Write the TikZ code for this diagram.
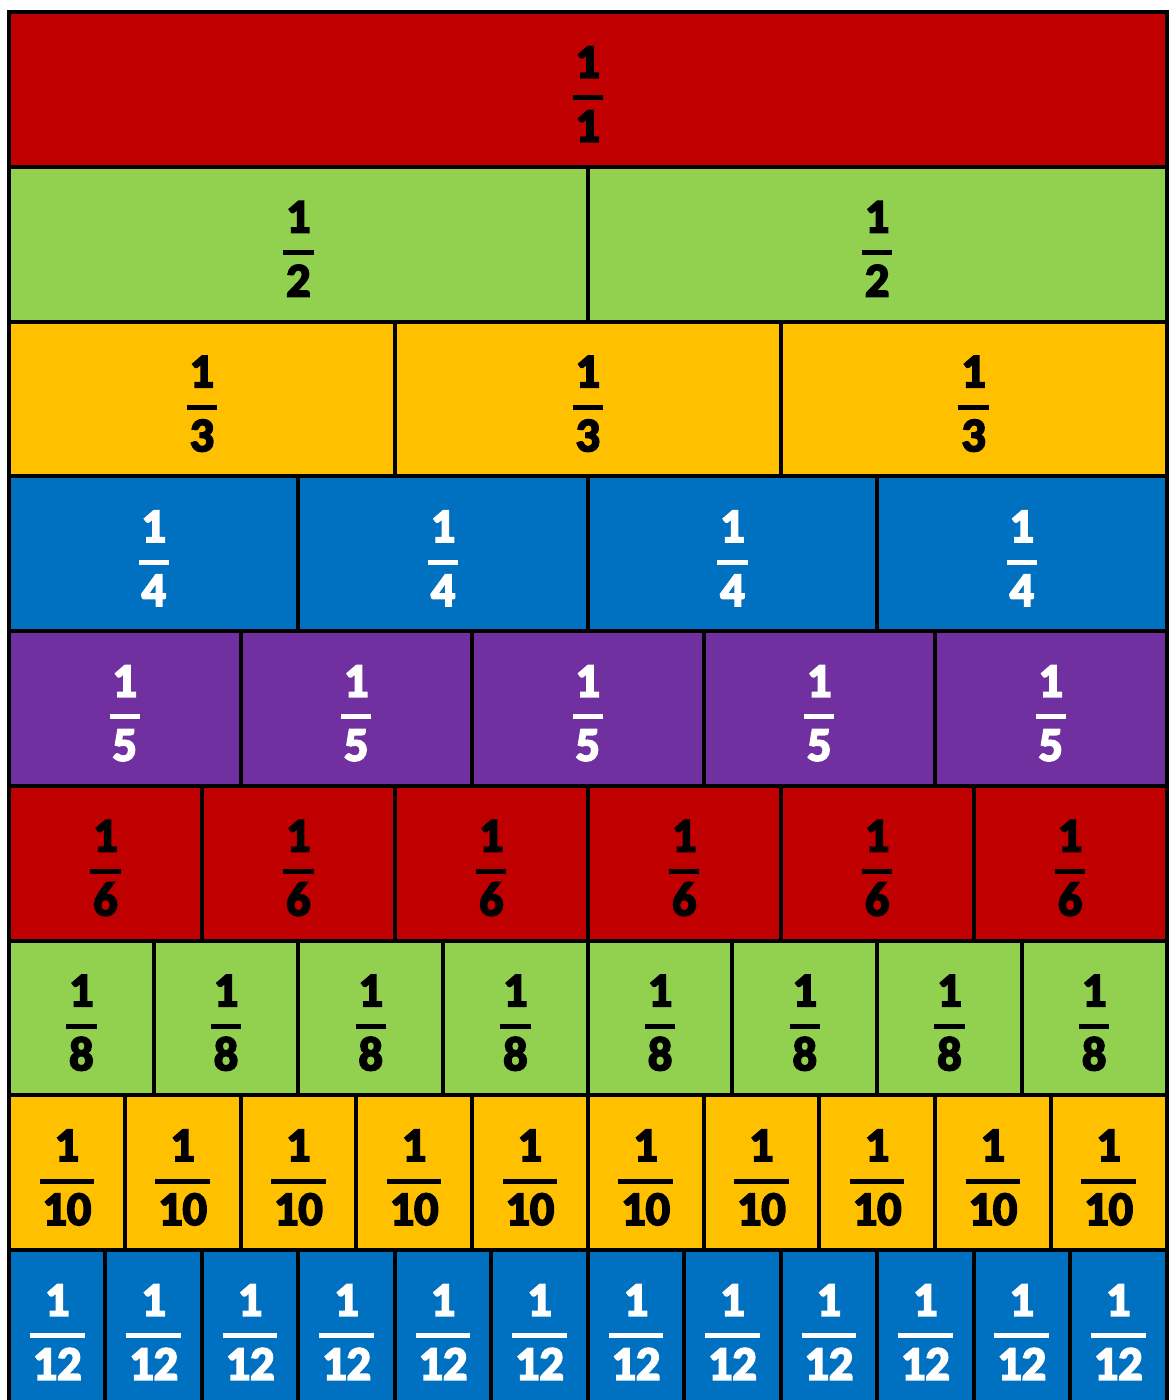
\documentclass[tikz,border=0pt]{standalone}
\usepackage{fontspec}
\setmainfont{Carlito}[BoldFeatures={FakeBold=4}]
\usepackage{calc}
\usepackage{xcolor}
\usepackage{tikz}
\definecolor{barred}{HTML}{C00000}
\definecolor{bargreen}{HTML}{92D050}
\definecolor{bargold}{HTML}{FFC000}
\definecolor{barblue}{HTML}{0070C0}
\definecolor{barpurple}{HTML}{7030A0}
\newcommand{\unitfrac}[1]{\setlength{\arrayrulewidth}{5pt}\renewcommand{\arraystretch}{1}%
  \raisebox{0pt}[\height+17pt][\depth]{\begin{tabular}{@{\hspace{3pt}}c@{\hspace{3pt}}}1\\\hline #1\end{tabular}}}

\tikzset{piece/.style={draw=black, line width=4pt, minimum height=154.75pt, inner sep=0pt,
  font=\fontsize{48}{59}\selectfont\bfseries}}

\begin{document}
\begin{tikzpicture}[x=1pt,y=-1pt]
  \useasboundingbox (0,0) rectangle (1168,1400);
  \fill[white] (0,0) rectangle (1168,1400);
  % one row of pieces per denominator
  \foreach \den/\col/\ink [count=\rowi from 0] in {1/barred/black, 2/bargreen/black, 3/bargold/black,
      4/barblue/white, 5/barpurple/white, 6/barred/black, 8/bargreen/black, 10/bargold/black, 12/barblue/white}{
    \pgfmathsetmacro{\cellw}{1157.5/\den}
    \foreach \k in {1,...,\den}{
      \node[piece, fill=\col, text=\ink, minimum width=\cellw pt] (f\den-\k)
        at ({9+(\k-0.5)*\cellw}, {12+(\rowi+0.5)*154.75}) {\unitfrac{\den}};
    }
  }
\end{tikzpicture}
\end{document}
